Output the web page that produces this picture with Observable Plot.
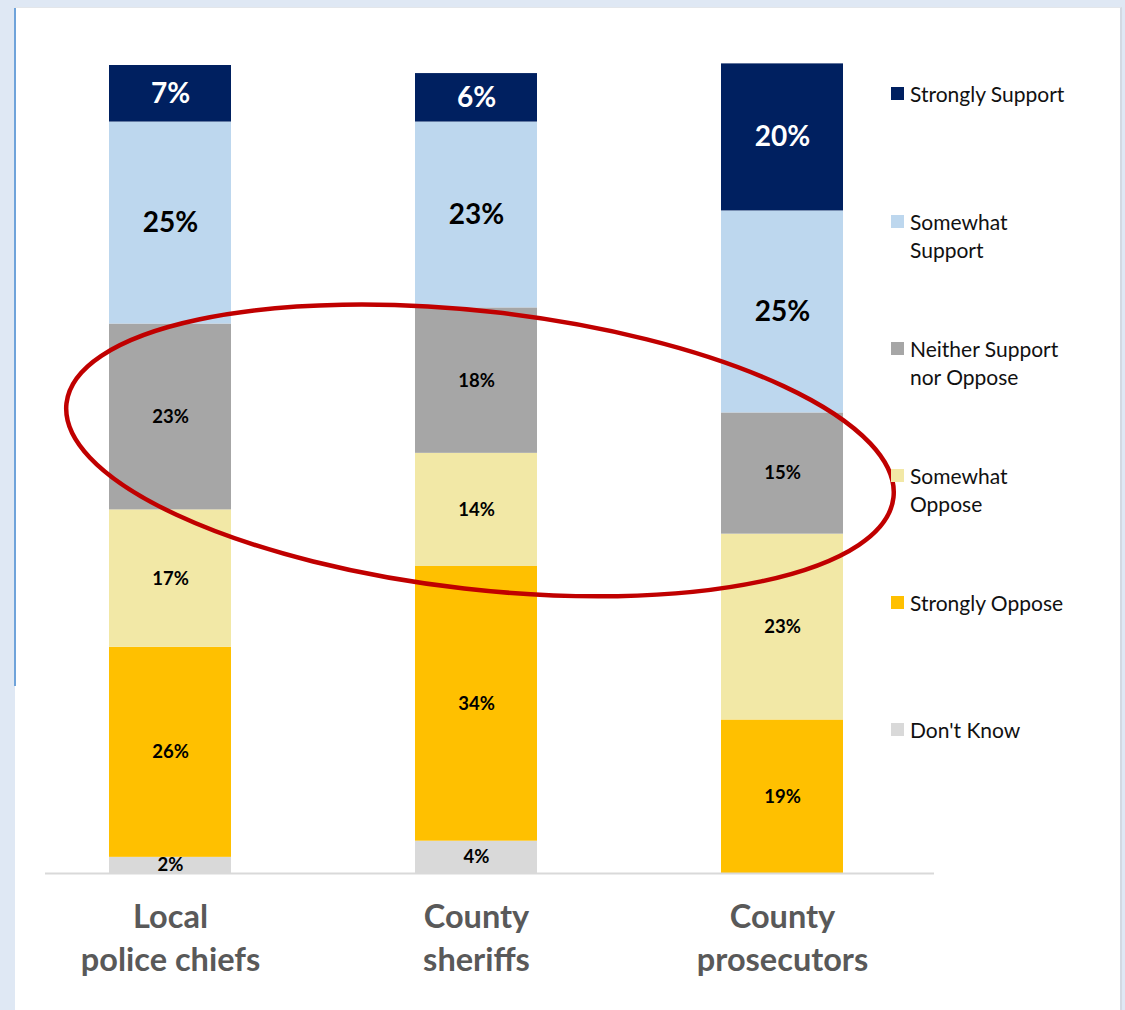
<!DOCTYPE html>
<html>
<head>
<meta charset="utf-8">
<script src="https://cdn.jsdelivr.net/npm/d3@7"></script>
<script src="https://cdn.jsdelivr.net/npm/@observablehq/plot@0.6"></script>
<style>
  html, body { margin: 0; padding: 0; }
  body { width: 1125px; height: 1010px; overflow: hidden; background: #dfe8f4; position: relative; font-family: Lato, "Open Sans", sans-serif; }
  #panel { position: absolute; left: 15px; top: 7px; width: 1107px; height: 1003px; background: #ffffff; border-top: 1px solid #e3e6ea; border-right: 2px solid #d3d9e2; box-sizing: border-box; }
  #edge { position: absolute; left: 14px; top: 8px; width: 2px; height: 678px; background: #6fa3da; }
  #chart { position: absolute; left: 0; top: 0; }
  #legend { position: absolute; left: 0; top: 0; }
  .item { position: absolute; left: 891px; font-size: 21px; line-height: 28px; color: #111; white-space: pre; }
  .sw { position: absolute; left: 0; top: 7px; width: 13px; height: 13px; }
  .lt { position: absolute; left: 19px; top: 0; }
</style>
</head>
<body>
<div id="panel"></div>
<div id="edge"></div>
<div id="chart"></div>
<div id="legend"></div>
<script>
// ---- data ----
const categories = ["Local police chiefs", "County sheriffs", "County prosecutors"];
const categoryLabels = ["Local\npolice chiefs", "County\nsheriffs", "County\nprosecutors"];
// stacking order, bottom to top
const series = ["Don't Know", "Strongly Oppose", "Somewhat Oppose", "Neither Support nor Oppose", "Somewhat Support", "Strongly Support"];
const seriesColors = ["#d9d9d9", "#ffc000", "#f2e8a6", "#a6a6a6", "#bdd7ee", "#002060"];
const legendOrder = ["Strongly Support", "Somewhat Support", "Neither Support nor Oppose", "Somewhat Oppose", "Strongly Oppose", "Don't Know"];
const legendLabels = ["Strongly Support", "Somewhat\nSupport", "Neither Support\nnor Oppose", "Somewhat\nOppose", "Strongly Oppose", "Don't Know"];

const dontKnow        = [2, 4, 0];
const stronglyOppose  = [26, 34, 19];
const somewhatOppose  = [17, 14, 23];
const neither         = [23, 18, 15];
const somewhatSupport = [25, 23, 25];
const stronglySupport = [7, 6, 18.2];          // drawn heights
const stronglySupportPrinted = ["7%", "6%", "20%"]; // printed labels

// ellipse annotation (data units): centre near sheriffs bar
const ellipseNote = {category: "County sheriffs", dxSteps: 0.013, y: 52.3, rxSteps: 1.36, ry: 17.2, angle: 6.5};

// ---- build table ----
const valuesBySeries = [dontKnow, stronglyOppose, somewhatOppose, neither, somewhatSupport, stronglySupport];
const rows = [];
series.forEach((s, i) => {
  categories.forEach((c, j) => {
    const v = valuesBySeries[i][j];
    const label = v === 0 ? "" : (s === "Strongly Support" ? stronglySupportPrinted[j] : `${v}%`);
    rows.push({category: c, series: s, value: v, label, big: s === "Strongly Support" || s === "Somewhat Support"});
  });
});

const plot = Plot.plot({
  width: 1125,
  height: 1010,
  marginLeft: 45,
  marginRight: 191,
  marginTop: 65,
  marginBottom: 137,
  style: {fontFamily: "Lato, 'Open Sans', sans-serif", background: "transparent", overflow: "visible"},
  x: {domain: categories, paddingInner: 0.601, paddingOuter: 0.253, align: 0.413, label: null},
  y: {domain: [0, 100], axis: null},
  color: {domain: series, range: seriesColors},
  marks: [
    Plot.barY(rows, Plot.stackY({x: "category", y: "value", z: "series", fill: "series", order: series})),
    Plot.ruleY([0], {stroke: "#d9d9d9", strokeWidth: 2}),
    Plot.text(rows, Plot.stackY({
      x: "category", y: "value", z: "series", order: series, text: "label",
      fontSize: d => d.big ? 28 : 18.5, fontWeight: "bold",
      fill: d => d.series === "Strongly Support" ? "#ffffff" : "#000000"
    })),
    Plot.axisX({
      tickSize: 0, tickPadding: 24,
      tickFormat: d => categoryLabels[categories.indexOf(d)],
      fontSize: 32.5, fontWeight: "bold", fill: "#595959", lineHeight: 1.32
    })
  ]
});
document.getElementById("chart").appendChild(plot);

// ellipse annotation via the plot's scales
const xs = plot.scale("x"), ys = plot.scale("y");
const step = xs.step, bw = xs.bandwidth;
const cx = xs.apply(ellipseNote.category) + bw / 2 + ellipseNote.dxSteps * step;
const cy = ys.apply(ellipseNote.y);
const rx = ellipseNote.rxSteps * step;
const ry = Math.abs(ys.apply(0) - ys.apply(ellipseNote.ry));
d3.select(plot).append("ellipse")
  .attr("cx", cx).attr("cy", cy).attr("rx", rx).attr("ry", ry)
  .attr("transform", `rotate(${ellipseNote.angle} ${cx} ${cy})`)
  .attr("fill", "none").attr("stroke", "#c00000").attr("stroke-width", 4.5);

// legend
const legend = document.getElementById("legend");
const legendTops = [94, 222, 349, 476, 603, 730];
legendOrder.forEach((s, i) => {
  const item = document.createElement("div");
  item.className = "item";
  item.style.top = (legendTops[i] - 14) + "px";
  const sw = document.createElement("div");
  sw.className = "sw";
  sw.style.background = seriesColors[series.indexOf(s)];
  const lt = document.createElement("div");
  lt.className = "lt";
  lt.textContent = legendLabels[i];
  item.appendChild(sw); item.appendChild(lt);
  legend.appendChild(item);
});
</script>
</body>
</html>
